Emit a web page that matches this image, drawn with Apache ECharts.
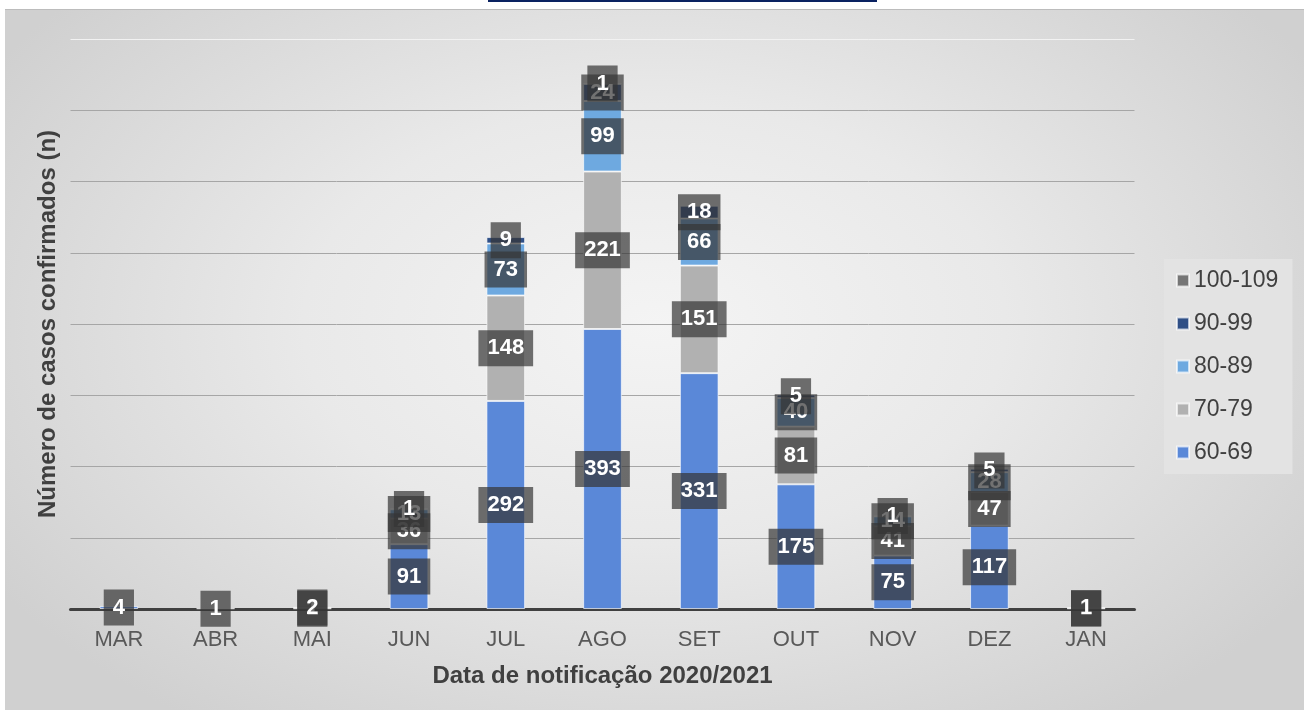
<!DOCTYPE html>
<html>
<head>
<meta charset="utf-8">
<script src="https://cdn.jsdelivr.net/npm/echarts@6/dist/echarts.min.js"></script>
<style>
  html, body { margin: 0; padding: 0; background: #ffffff; }
  #wrap { position: relative; width: 1309px; height: 713px; overflow: hidden; }
  #topbar { position: absolute; left: 488px; top: 0; width: 389px; height: 2px; background: #0a2261; }
  #frame {
    position: absolute; left: 5px; top: 9px; width: 1299px; height: 701px;
    border-top: 1px solid #bcbcbc; box-sizing: border-box;
    background: radial-gradient(ellipse 60% 70% at 50% 45%, #f4f4f4 0%, #e9e9e9 45%, #d0d0d0 100%);
  }
  #chart { position: absolute; left: 0; top: 0; width: 1309px; height: 713px; }
</style>
</head>
<body>
<div id="wrap">
  <div id="topbar"></div>
  <div id="frame"></div>
  <div id="chart"></div>
</div>
<script>
// Monthly confirmed cases by age group (stacked)
const months = ['MAR', 'ABR', 'MAI', 'JUN', 'JUL', 'AGO', 'SET', 'OUT', 'NOV', 'DEZ', 'JAN'];
const groupNames = ['60-69', '70-79', '80-89', '90-99', '100-109'];
const cases60 = [4, 1, 1, 91, 292, 393, 331, 175, 75, 117, 1];
const cases70 = [null, null, 2, 36, 148, 221, 151, 81, 41, 47, 1];
const cases80 = [null, null, null, 13, 73, 99, 66, 40, 14, 28, null];
const cases90 = [null, null, null, 1, 9, 24, 18, 5, 1, 5, null];
const cases100 = [null, null, null, null, null, 1, null, null, null, null, null];
const groupColors = ['#5a88d8', '#b1b1b1', '#6ea9e0', '#2f4f86', '#767676'];

const FONT = 'Liberation Sans, Arial, sans-serif';
const seriesValues = [cases60, cases70, cases80, cases90, cases100];

const chart = echarts.init(document.getElementById('chart'), null, { renderer: 'canvas' });

const series = seriesValues.map((vals, i) => ({
  name: groupNames[i],
  type: 'bar',
  stack: 'total',
  barWidth: '40%',
  data: vals,
  itemStyle: {
    color: groupColors[i],
    borderColor: 'rgba(255,255,255,0.65)',
    borderWidth: 1
  },
  label: {
    show: true,
    position: 'inside',
    color: '#ffffff',
    fontFamily: FONT,
    fontWeight: 'bold',
    fontSize: 22,
    backgroundColor: 'rgba(52,52,52,0.7)',
    padding: [8, 9, 6, 9],
    formatter: p => (p.value == null ? '' : String(p.value))
  },
  emphasis: { disabled: true }
}));

const gridColors = ['#a6a6a6', '#a6a6a6', '#a6a6a6', '#a6a6a6', '#a6a6a6', '#a6a6a6', '#a6a6a6', '#a6a6a6', '#f2f2f2'];

chart.setOption({
  backgroundColor: 'transparent',
  animation: false,
  textStyle: { fontFamily: FONT },
  grid: { left: 70.5, right: 174.5, top: 39, bottom: 104, containLabel: false },
  legend: {
    orient: 'vertical',
    left: 1164,
    top: 259,
    data: groupNames.slice().reverse(),
    icon: 'rect',
    itemWidth: 12,
    itemHeight: 12,
    itemGap: 20,
    padding: [10, 14, 10, 12],
    backgroundColor: '#e3e3e3',
    textStyle: { color: '#404040', fontSize: 23, fontFamily: FONT }
  },
  xAxis: {
    type: 'category',
    data: months,
    axisLine: { show: true, lineStyle: { color: '#404040', width: 3 } },
    axisTick: { show: false },
    axisLabel: { color: '#595959', fontSize: 22, fontFamily: FONT, margin: 20 },
    name: 'Data de notificação 2020/2021',
    nameLocation: 'middle',
    nameGap: 55,
    nameTextStyle: { color: '#404040', fontSize: 24, fontWeight: 'bold', fontFamily: FONT }
  },
  yAxis: {
    type: 'value',
    min: 0,
    max: 800,
    interval: 100,
    axisLine: { show: false },
    axisTick: { show: false },
    axisLabel: { show: false },
    splitLine: { show: true, lineStyle: { color: gridColors, width: 1 } },
    name: 'Número de casos confirmados (n)',
    nameLocation: 'middle',
    nameRotate: 90,
    nameGap: 10,
    nameTextStyle: { color: '#404040', fontSize: 24, fontWeight: 'bold', fontFamily: FONT }
  },
  series: series
});
</script>
</body>
</html>
